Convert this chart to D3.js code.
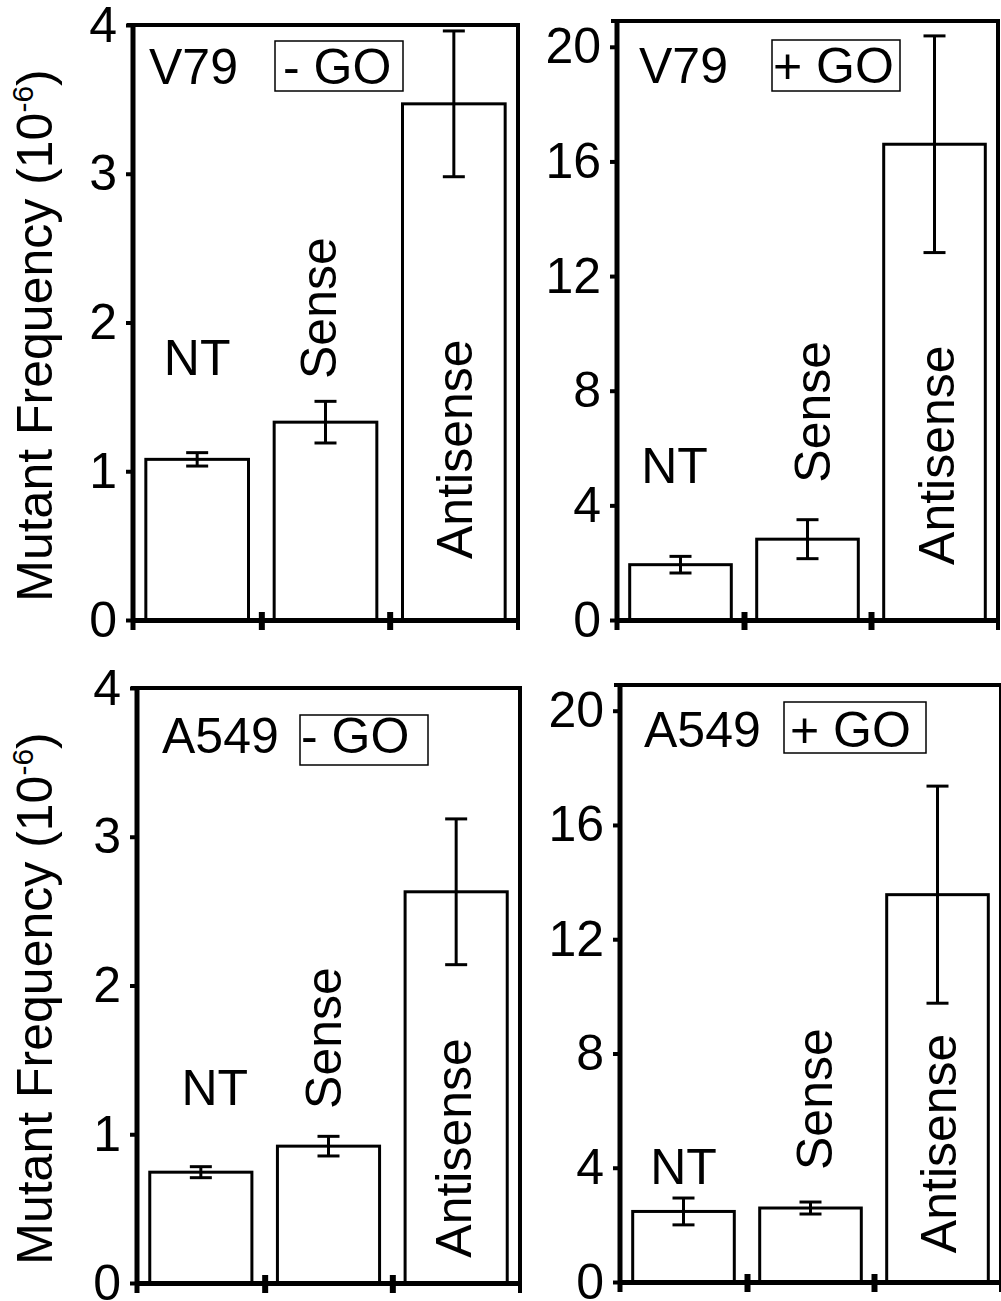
<!DOCTYPE html>
<html>
<head>
<meta charset="utf-8">
<script src="https://cdn.jsdelivr.net/npm/d3@7"></script>
<style>
  body { margin: 0; background: #fff; }
  svg { display: block; }
  text { font-family: "Liberation Sans", Arial, sans-serif; fill: #000; }
</style>
</head>
<body>
<script>
// bar categories, same in every panel
const categories = ['NT', 'Sense', 'Antisense'];

// panel titles
const cellLines = ['V79', 'V79', 'A549', 'A549'];
const treatments = ['- GO', '+ GO', '- GO', '+ GO'];

// mutant frequency (10^-6) and error bar half-widths
const v79NoGo = [1.08, 1.33, 3.47];
const v79NoGoErr = [0.045, 0.14, 0.49];
const v79Go = [1.93, 2.82, 16.6];
const v79GoErr = [0.29, 0.68, 3.78];
const a549NoGo = [0.745, 0.92, 2.63];
const a549NoGoErr = [0.037, 0.066, 0.49];
const a549Go = [2.47, 2.59, 13.56];
const a549GoErr = [0.47, 0.21, 3.8];

// y axes
const ticksNoGo = [0, 1, 2, 3, 4];
const ticksGo = [0, 4, 8, 12, 16, 20];
const yMaxNoGo = 4;
const yMaxGo = 20.9;

const means = [v79NoGo, v79Go, a549NoGo, a549Go];
const errs = [v79NoGoErr, v79GoErr, a549NoGoErr, a549GoErr];
const yTicks = [ticksNoGo, ticksGo, ticksNoGo, ticksGo];
const yMax = [yMaxNoGo, yMaxGo, yMaxNoGo, yMaxGo];

// layout (pixels) of each panel
const frames = [
  { x0: 133, x1: 518, top: 25, base: 620 },
  { x0: 617, x1: 998, top: 21, base: 620 },
  { x0: 137, x1: 520, top: 688, base: 1283 },
  { x0: 620, x1: 1001, top: 685, base: 1282 }
];
// title text + boxed treatment label
const titles = [
  { tx: 149, ty: 84, bx: 275, by: 41, bw: 128, bh: 50, gx: 283 },
  { tx: 639, ty: 83, bx: 772, by: 40, bw: 128, bh: 51, gx: 773 },
  { tx: 162, ty: 753, bx: 300, by: 715, bw: 128, bh: 50, gx: 301 },
  { tx: 644, ty: 747, bx: 784, by: 702, bw: 142, bh: 51, gx: 790 }
];
// category labels: dx from bar centre, v = value where the text sits
const catLabels = [
  [{ dx: 0, v: 1.65 }, { dx: 10, v: 1.62 }, { dx: 18, v: 0.41 }],
  [{ dx: -6, v: 4.79 }, { dx: 22, v: 4.79 }, { dx: 19, v: 1.92 }],
  [{ dx: 14, v: 1.2 }, { dx: 12, v: 1.17 }, { dx: 15, v: 0.17 }],
  [{ dx: 0, v: 3.43 }, { dx: 21, v: 3.92 }, { dx: 18, v: 1.01 }]
];

const width = 1001;
const height = 1301;
const fontSize = 50;

let svg = d3.select('body').append('svg')
            .attr('width', width)
            .attr('height', height);

svg.append('rect').attr('width', width).attr('height', height).attr('fill', '#fff');

frames.forEach((f, p) => {
  let g = svg.append('g');

  let y = d3.scaleLinear()
            .domain([0, yMax[p]])
            .range([f.base, f.top]);
  let x = d3.scaleBand()
            .domain(categories)
            .range([f.x0, f.x1])
            .paddingInner(0.2)
            .paddingOuter(0.1);
  let xb = d3.scaleLinear()
             .domain([0, categories.length])
             .range([f.x0, f.x1]);

  let rows = categories.map((c, i) => ({ cat: c, mean: means[p][i], err: errs[p][i], lab: catLabels[p][i] }));

  // bars
  g.selectAll('rect.bar')
    .data(rows)
    .enter()
    .append('rect')
    .attr('class', 'bar')
    .attr('x', (d) => x(d.cat))
    .attr('y', (d) => y(d.mean))
    .attr('width', x.bandwidth())
    .attr('height', (d) => y(0) - y(d.mean))
    .attr('fill', '#fff')
    .attr('stroke', '#000')
    .attr('stroke-width', 3);

  // error bars
  let eb = g.selectAll('g.err')
            .data(rows)
            .enter()
            .append('g')
            .attr('class', 'err')
            .attr('stroke', '#000')
            .attr('stroke-width', 3);
  let cx = (d) => x(d.cat) + x.bandwidth() / 2;
  eb.append('line')
    .attr('x1', cx).attr('x2', cx)
    .attr('y1', (d) => y(d.mean - d.err))
    .attr('y2', (d) => y(d.mean + d.err));
  [-1, 1].forEach((s) => {
    eb.append('line')
      .attr('x1', (d) => cx(d) - 11).attr('x2', (d) => cx(d) + 11)
      .attr('y1', (d) => y(d.mean + s * d.err))
      .attr('y2', (d) => y(d.mean + s * d.err));
  });

  // category labels
  g.selectAll('text.cat')
    .data(rows)
    .enter()
    .append('text')
    .attr('class', 'cat')
    .attr('font-size', fontSize)
    .attr('text-anchor', (d) => d.cat === 'NT' ? 'middle' : 'start')
    .attr('transform', (d) => {
      let tx = cx(d) + d.lab.dx;
      let ty = y(d.lab.v);
      return d.cat === 'NT' ? 'translate(' + tx + ',' + ty + ')'
                            : 'translate(' + tx + ',' + ty + ') rotate(-90)';
    })
    .text((d) => d.cat);

  // frame: top and right edges
  g.append('line')
    .attr('x1', f.x0 - 6).attr('x2', f.x1 + 2)
    .attr('y1', f.top).attr('y2', f.top)
    .attr('stroke', '#000').attr('stroke-width', 4);
  g.append('line')
    .attr('x1', f.x1).attr('x2', f.x1)
    .attr('y1', f.top).attr('y2', f.base + 10)
    .attr('stroke', '#000').attr('stroke-width', 4);

  // y axis
  let yAxis = d3.axisLeft(y).tickValues(yTicks[p]).tickFormat(d3.format('d'))
                .tickSize(7).tickSizeOuter(0).tickPadding(9);
  let ya = g.append('g').attr('transform', 'translate(' + f.x0 + ',0)').call(yAxis);
  ya.select('.domain').remove();
  ya.selectAll('.tick line').attr('stroke-width', 4);
  ya.selectAll('.tick text')
    .attr('font-size', fontSize)
    .attr('font-family', '"Liberation Sans", Arial, sans-serif')
    .attr('fill', '#000');
  g.append('line')
    .attr('x1', f.x0).attr('x2', f.x0)
    .attr('y1', f.top - 2).attr('y2', f.base + 10)
    .attr('stroke', '#000').attr('stroke-width', 5);

  // x axis with ticks between categories
  let xAxis = d3.axisBottom(xb).tickValues(d3.range(1, categories.length)).tickSize(10).tickSizeOuter(0).tickFormat('');
  let xa = g.append('g').attr('transform', 'translate(0,' + f.base + ')').call(xAxis);
  xa.select('.domain').attr('stroke-width', 5);
  xa.selectAll('.tick line').attr('y1', -8).attr('stroke-width', 6);

  // title and boxed treatment
  let t = titles[p];
  g.append('text')
    .attr('x', t.tx).attr('y', t.ty)
    .attr('font-size', fontSize)
    .text(cellLines[p]);
  g.append('rect')
    .attr('x', t.bx).attr('y', t.by)
    .attr('width', t.bw).attr('height', t.bh)
    .attr('fill', 'none').attr('stroke', '#000').attr('stroke-width', 1.5);
  g.append('text')
    .attr('x', t.gx).attr('y', t.ty)
    .attr('font-size', fontSize)
    .text(treatments[p]);

  // y axis title, left panels only
  if (p % 2 === 0) {
    let lab = g.append('text')
               .attr('text-anchor', 'middle')
               .attr('font-size', fontSize)
               .attr('transform', 'translate(52,' + ((f.top + f.base) / 2 + 13) + ') rotate(-90)');
    lab.append('tspan').text('Mutant Frequency (10');
    lab.append('tspan').attr('font-size', 30).attr('dy', -19).text('-6');
    lab.append('tspan').attr('dy', 19).text(')');
  }
});
</script>
</body>
</html>
